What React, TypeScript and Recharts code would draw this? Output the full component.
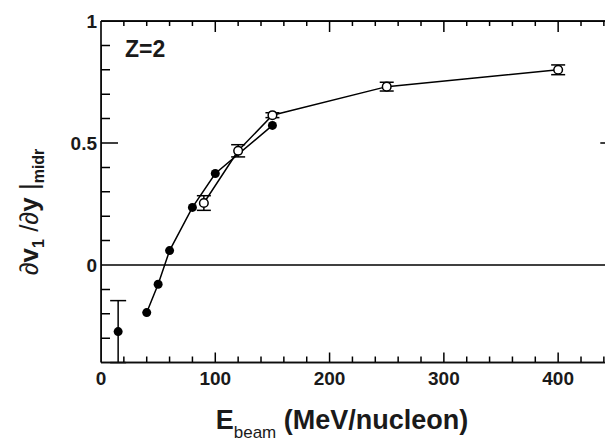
import { ScatterChart, Scatter, XAxis, YAxis, ErrorBar, ReferenceLine } from "recharts";

// closed circles (connected)
const closedEnergy = [40, 50, 60, 80, 100, 150];
const closedSlope = [-0.195, -0.079, 0.059, 0.236, 0.375, 0.572];

// closed circle at low energy, not connected
const lowEnergy = [15];
const lowSlope = [-0.273];
const lowErr = [0.127];

// open circles (connected)
const openEnergy = [90, 120, 150, 250, 400];
const openSlope = [0.254, 0.468, 0.614, 0.731, 0.8];
const openErr = [0.03, 0.025, 0.01, 0.018, 0.02];

const xTicks = [0, 100, 200, 300, 400];
const yTicks = [0, 0.5, 1];
const xTickMarks = [20, 40, 60, 80, 100, 120, 140, 160, 180, 200, 220, 240, 260, 280, 300, 320, 340, 360, 380, 400, 420, 440];
const yTickMarks = [-0.3, -0.2, -0.1, 0.1, 0.2, 0.3, 0.4, 0.5, 0.6, 0.7, 0.8, 0.9];
const xMin = 0;
const xMax = 450;
const yMin = -0.4;
const yMax = 1;

// plot box in px, to turn inward tick lengths into data units
const plotW = 514.3;
const plotH = 341.6;
const pxX = (px: number) => (px * (xMax - xMin)) / plotW;
const pxY = (px: number) => (px * (yMax - yMin)) / plotH;

const isMajorX = (e: number) => e % 100 === 0;
const isMajorY = (v: number) => Math.abs(v - 0.5) < 1e-6;

const closedData = closedEnergy.map((e, i) => ({ e, v: closedSlope[i] }));
const lowData = lowEnergy.map((e, i) => ({ e, v: lowSlope[i], err: lowErr[i] }));
const openData = openEnergy.map((e, i) => ({ e, v: openSlope[i], err: openErr[i] }));

// each side's ticks as one path running along the frame, out and back at every tick
const bottomTicks = [{ e: xMin, v: yMin }].concat(
  ...xTickMarks.map((e) => [{ e, v: yMin }, { e, v: yMin + pxY(isMajorX(e) ? 10 : 6) }, { e, v: yMin }])
);
const topTicks = [{ e: xMin, v: yMax }].concat(
  ...xTickMarks.map((e) => [{ e, v: yMax }, { e, v: yMax - pxY(isMajorX(e) ? 11 : 5) }, { e, v: yMax }])
);
const leftTicks = [{ e: xMin, v: yMin }].concat(
  ...yTickMarks.map((v) => [{ e: xMin, v }, { e: xMin + pxX(isMajorY(v) ? 17 : 9), v }, { e: xMin, v }])
);
const rightTicks = [{ e: xMax, v: yMin }].concat(
  ...yTickMarks.map((v) => [{ e: xMax, v }, { e: xMax - pxX(isMajorY(v) ? 15 : 9), v }, { e: xMax, v }])
);

const font = "'Liberation Sans', Arial, sans-serif";
const ink = "#1a1a1a";

function BottomLabel(props: any) {
  const { x, y, payload } = props;
  return (
    <text x={x} y={y + 16} dy="0.35em" textAnchor="middle" fontFamily={font} fontWeight="bold" fontSize={19} fill={ink}>
      {payload.value}
    </text>
  );
}

function LeftLabel(props: any) {
  const { x, y, payload } = props;
  return (
    <text x={x - 4} y={y} dy="0.35em" textAnchor="end" fontFamily={font} fontWeight="bold" fontSize={19} fill={ink}>
      {payload.value}
    </text>
  );
}

const hiddenDot = (p: any) => <circle cx={p.cx} cy={p.cy} r={0} fill="none" />;
const closedDot = (p: any) => <circle cx={p.cx} cy={p.cy} r={4.5} fill="#000" />;
const openDot = (p: any) => <circle cx={p.cx} cy={p.cy} r={4.3} fill="#fff" stroke="#000" strokeWidth={1.5} />;

const axisStroke = { stroke: ink, strokeWidth: 1.8 };
const tickLineStyle = { stroke: "#000", strokeWidth: 1.5 };

export default function App() {
  return (
    <div style={{ width: 605, height: 437, overflow: "hidden" }}>
      <ScatterChart width={612} height={437} margin={{ top: 0, right: 0, bottom: 0, left: 0 }}>
        <XAxis
          xAxisId="bottom"
          type="number"
          dataKey="e"
          domain={[xMin, xMax]}
          allowDataOverflow
          ticks={xTicks}
          interval={0}
          orientation="bottom"
          height={82.4}
          tickSize={0}
          tickMargin={0}
          tickLine={false}
          tick={<BottomLabel />}
          axisLine={axisStroke}
        />
        <XAxis
          xAxisId="top"
          type="number"
          dataKey="e"
          domain={[xMin, xMax]}
          allowDataOverflow
          orientation="top"
          height={13}
          tickLine={false}
          tick={false}
          axisLine={axisStroke}
        />
        <YAxis
          yAxisId="left"
          type="number"
          dataKey="v"
          domain={[yMin, yMax]}
          allowDataOverflow
          ticks={yTicks}
          interval={0}
          orientation="left"
          width={93}
          tickSize={0}
          tickMargin={0}
          tickLine={false}
          tick={<LeftLabel />}
          axisLine={axisStroke}
        />
        <YAxis
          yAxisId="right"
          type="number"
          dataKey="v"
          domain={[yMin, yMax]}
          allowDataOverflow
          orientation="right"
          width={4.7}
          tickLine={false}
          tick={false}
          axisLine={axisStroke}
        />
        <ReferenceLine xAxisId="bottom" yAxisId="left" y={0} stroke="#000" strokeWidth={1.3} />
        <Scatter xAxisId="bottom" yAxisId="left" data={lowData} shape={closedDot} isAnimationActive={false}>
          <ErrorBar dataKey="err" direction="y" width={8} stroke="#000" strokeWidth={1.5} />
        </Scatter>
        <Scatter
          xAxisId="bottom"
          yAxisId="left"
          data={closedData}
          line={{ stroke: "#000", strokeWidth: 1.5 }}
          shape={closedDot}
          isAnimationActive={false}
        />
        <Scatter
          xAxisId="top"
          yAxisId="right"
          data={openData}
          line={{ stroke: "#000", strokeWidth: 1.5 }}
          shape={openDot}
          isAnimationActive={false}
        >
          <ErrorBar dataKey="err" direction="y" width={7} stroke="#000" strokeWidth={1.5} />
        </Scatter>
        <Scatter xAxisId="bottom" yAxisId="left" data={bottomTicks} line={tickLineStyle} shape={hiddenDot} isAnimationActive={false} />
        <Scatter xAxisId="bottom" yAxisId="left" data={topTicks} line={tickLineStyle} shape={hiddenDot} isAnimationActive={false} />
        <Scatter xAxisId="bottom" yAxisId="left" data={leftTicks} line={tickLineStyle} shape={hiddenDot} isAnimationActive={false} />
        <Scatter xAxisId="bottom" yAxisId="left" data={rightTicks} line={tickLineStyle} shape={hiddenDot} isAnimationActive={false} />
        <text x={117} y={49} fontFamily={font} fontWeight="bold" fontSize={23} fill={ink}>
          Z=2
        </text>
        <text x={334} y={421} textAnchor="middle" fontFamily={font} fontWeight="bold" fontSize={27} fill={ink}>
          E
          <tspan fontSize={17} fontWeight="normal" dy={9}>beam</tspan>
          <tspan dy={-9}> (MeV/nucleon)</tspan>
        </text>
        <text
          x={30}
          y={204}
          transform="rotate(-90, 30, 204)"
          textAnchor="middle"
          fontFamily={font}
          fontSize={26}
          fill={ink}
        >
          ∂<tspan fontWeight="bold">v</tspan>
          <tspan fontSize={16} fontWeight="bold" dy={6}>1</tspan>
          <tspan dy={-6}> /∂</tspan>
          <tspan fontWeight="bold">y</tspan>
          <tspan>{"  |"}</tspan>
          <tspan fontSize={16} fontWeight="bold" dy={6}>midr</tspan>
        </text>
      </ScatterChart>
    </div>
  );
}
